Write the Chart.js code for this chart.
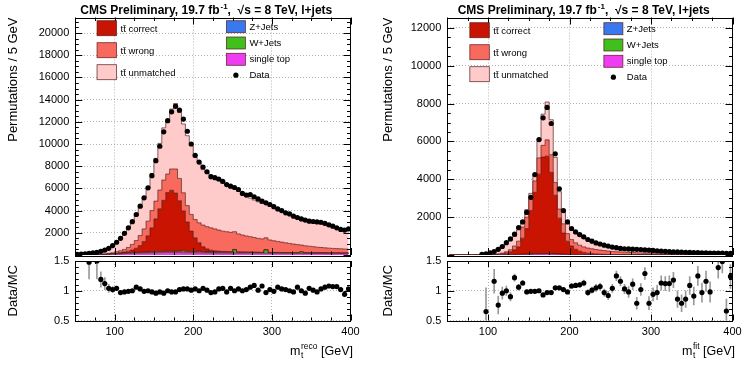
<!DOCTYPE html>
<html>
<head>
<meta charset="utf-8">
<script src="https://cdn.jsdelivr.net/npm/chart.js@4.4.1/dist/chart.umd.min.js"></script>
<style>
  body { margin: 0; background: #fff; }
  #wrap { position: relative; width: 750px; height: 367px; overflow: hidden; }
  canvas { position: absolute; }
</style>
</head>
<body>
<div id="wrap">
  <canvas id="recoMain" width="375" height="259" style="left:0px;top:0px"></canvas>
  <canvas id="recoRatio" width="375" height="117" style="left:0px;top:250px"></canvas>
  <canvas id="fitMain" width="375" height="259" style="left:375px;top:0px"></canvas>
  <canvas id="fitRatio" width="375" height="117" style="left:375px;top:250px"></canvas>
</div>
<script>
// 5 GeV bins, 50-400 GeV
const binCenters = [
  52.5, 57.5, 62.5, 67.5, 72.5, 77.5, 82.5, 87.5, 92.5, 97.5,
  102.5, 107.5, 112.5, 117.5, 122.5, 127.5, 132.5, 137.5, 142.5, 147.5,
  152.5, 157.5, 162.5, 167.5, 172.5, 177.5, 182.5, 187.5, 192.5, 197.5,
  202.5, 207.5, 212.5, 217.5, 222.5, 227.5, 232.5, 237.5, 242.5, 247.5,
  252.5, 257.5, 262.5, 267.5, 272.5, 277.5, 282.5, 287.5, 292.5, 297.5,
  302.5, 307.5, 312.5, 317.5, 322.5, 327.5, 332.5, 337.5, 342.5, 347.5,
  352.5, 357.5, 362.5, 367.5, 372.5, 377.5, 382.5, 387.5, 392.5, 397.5
];
const xTickLabels = [100, 200, 300, 400];
const yTicksReco = [2000, 4000, 6000, 8000, 10000, 12000, 14000, 16000, 18000, 20000];
const yTicksFit = [2000, 4000, 6000, 8000, 10000, 12000];
const ratioTicks = [0.5, 1, 1.5];

// ---- left: m_t^reco ----
const dataReco = [
  60, 80, 100, 140, 190, 250, 330, 440, 600, 850,
  1150, 1500, 1950, 2450, 3000, 3650, 4400, 5150, 6050, 7150,
  8500, 9800, 11100, 12100, 12900, 13400, 13050, 12250, 11150, 10000,
  8980, 8370, 7930, 7500, 7060, 6970, 6850, 6640, 6350, 6200,
  6080, 5900, 5550, 5400, 5450, 5250, 5050, 4850, 4700, 4550,
  4350, 4150, 4000, 3800, 3700, 3500, 3380, 3250, 3150, 3050,
  3020, 2980, 2950, 2850, 2720, 2600, 2450, 2300, 2250, 2350
];
const singleTopReco = [
  0, 0, 0, 0, 0, 10, 20, 30, 45, 60,
  80, 100, 120, 135, 150, 160, 170, 180, 190, 200,
  205, 210, 215, 220, 220, 220, 220, 215, 210, 205,
  200, 200, 195, 190, 190, 185, 185, 180, 180, 175,
  175, 170, 170, 165, 165, 160, 160, 155, 155, 150,
  150, 150, 145, 145, 145, 140, 140, 140, 135, 135,
  135, 130, 130, 130, 125, 125, 125, 120, 120, 120
];
const wJetsReco = [
  0, 0, 0, 0, 0, 0, 10, 15, 20, 25,
  30, 40, 50, 55, 60, 65, 70, 75, 80, 85,
  90, 95, 100, 100, 100, 100, 110, 150, 100, 90,
  85, 120, 80, 80, 75, 75, 70, 70, 70, 70,
  280, 70, 65, 65, 65, 65, 60, 60, 300, 60,
  60, 60, 55, 55, 55, 55, 55, 120, 55, 50,
  50, 50, 50, 50, 45, 45, 45, 45, 45, 45
];
const zJetsReco = [
  0, 0, 0, 0, 0, 0, 0, 0, 0, 0,
  5, 5, 5, 5, 5, 5, 5, 5, 5, 5,
  10, 10, 10, 10, 10, 10, 10, 10, 10, 10,
  10, 10, 10, 10, 10, 10, 10, 10, 10, 10,
  10, 10, 10, 10, 10, 10, 10, 10, 10, 10,
  10, 10, 10, 10, 10, 10, 10, 10, 10, 10,
  10, 10, 10, 10, 10, 10, 10, 10, 10, 10
];
const ttCorrectReco = [
  0, 0, 0, 0, 0, 5, 10, 15, 25, 35,
  50, 70, 100, 150, 230, 380, 600, 950, 1450, 2150,
  2950, 3850, 4600, 5300, 5500, 5250, 4550, 3600, 2650, 1850,
  1250, 780, 460, 270, 160, 110, 80, 60, 50, 40,
  35, 30, 28, 25, 22, 20, 18, 16, 15, 14,
  13, 12, 12, 11, 11, 10, 10, 9, 9, 8,
  8, 8, 7, 7, 7, 6, 6, 6, 5, 5
];
const ttWrongReco = [
  5, 8, 10, 12, 15, 20, 30, 45, 60, 80,
  135, 165, 225, 335, 505, 690, 905, 1140, 1325, 1560,
  1600, 1690, 1830, 1670, 1920, 2170, 2010, 1630, 1480, 1500,
  1650, 1790, 1950, 2000, 2010, 1970, 1900, 1830, 1790, 1750,
  1600, 1620, 1530, 1450, 1390, 1320, 1250, 1210, 1070, 1120,
  1050, 990, 940, 880, 820, 770, 720, 620, 620, 590,
  550, 510, 480, 450, 430, 410, 390, 380, 360, 340
];
const ttUnmatchedReco = [
  35, 47, 60, 83, 105, 132, 207, 288, 427, 633,
  800, 1150, 1480, 1780, 2050, 2250, 2520, 2850, 3050, 3350,
  3850, 4200, 4700, 4900, 5400, 5900, 5950, 6200, 6300, 6200,
  5600, 5400, 5000, 4850, 4750, 4650, 4450, 4300, 4250, 4000,
  3950, 3830, 3720, 3600, 3480, 3380, 3300, 3200, 3120, 3040,
  2960, 2840, 2760, 2680, 2620, 2540, 2440, 2380, 2320, 2240,
  2200, 2180, 2120, 2040, 1950, 1880, 1800, 1760, 1760, 1740
];
const ratioReco = [
  null, null, null, 1.48, null, 1.5, 1.19, 1.12, 1.04, 1.02,
  1.04, 0.97, 0.98, 0.99, 1.0, 1.06, 1.03, 0.99, 1.0, 0.98,
  0.96, 0.98, 0.96, 1.0, 0.98, 0.98, 1.02, 1.03, 1.03, 1.01,
  1.03, 1.0, 1.04, 1.01, 0.97, 0.98, 1.03, 1.04, 0.98, 1.04,
  1.0, 1.03, 1.0, 1.02, 1.06, 1.09, 1.01, 1.08, 0.97, 1.02,
  0.99, 1.06, 1.03, 1.02, 1.0, 0.98, 1.06, 1.0, 0.96, 1.04,
  1.01, 0.98, 1.03, 1.06, 1.08, 1.07, 1.07, 1.02, 0.94, 1.03
];
const ratioErrReco = [
  0, 0, 0, 0.28, 0, 0.3, 0.13, 0.1, 0.07, 0.05,
  0.04, 0.03, 0.03, 0.02, 0.02, 0.02, 0.02, 0.02, 0.02, 0.02,
  0.02, 0.02, 0.02, 0.02, 0.02, 0.02, 0.02, 0.02, 0.02, 0.02,
  0.02, 0.02, 0.02, 0.02, 0.02, 0.02, 0.02, 0.02, 0.02, 0.02,
  0.02, 0.02, 0.02, 0.02, 0.02, 0.02, 0.02, 0.02, 0.02, 0.02,
  0.02, 0.02, 0.02, 0.02, 0.02, 0.02, 0.02, 0.02, 0.02, 0.02,
  0.02, 0.02, 0.02, 0.02, 0.02, 0.02, 0.02, 0.02, 0.02, 0.02
];

// ---- right: m_t^fit ----
const dataFit = [
  null, null, null, null, null, null, null, null, 30, 60,
  110, 180, 300, 450, 650, 850, 1100, 1450, 1750, 2250,
  3050, 4250, 6100, 7250, 7800, 6950, 5350, 3500, 2350, 1750,
  1400, 1220, 1080, 960, 820, 730, 640, 580, 520, 470,
  420, 385, 350, 330, 320, 310, 300, 290, 270, 255,
  240, 225, 210, 195, 180, 170, 160, 152, 145, 138,
  130, 124, 118, 112, 107, 102, 98, 94, 90, 86
];
const singleTopFit = [
  0, 0, 0, 0, 0, 0, 0, 0, 0, 0,
  2, 4, 6, 8, 10, 14, 18, 22, 28, 34,
  40, 46, 52, 56, 58, 54, 46, 38, 30, 24,
  20, 17, 15, 13, 12, 11, 10, 9, 8, 8,
  7, 7, 7, 6, 6, 6, 5, 5, 5, 5,
  5, 5, 4, 4, 4, 4, 4, 4, 4, 4,
  4, 3, 3, 3, 3, 3, 3, 3, 3, 3
];
const wJetsFit = [
  0, 0, 0, 0, 0, 0, 0, 0, 0, 0,
  0, 0, 2, 3, 4, 5, 6, 8, 10, 12,
  14, 15, 16, 15, 14, 12, 10, 8, 6, 5,
  4, 4, 3, 3, 3, 2, 2, 2, 2, 2,
  2, 1, 1, 1, 1, 1, 1, 1, 1, 1,
  1, 1, 1, 1, 1, 1, 1, 1, 1, 1,
  1, 1, 1, 1, 1, 1, 1, 1, 1, 1
];
const zJetsFit = [
  0, 0, 0, 0, 0, 0, 0, 0, 0, 0,
  0, 0, 2, 2, 2, 2, 2, 2, 2, 2,
  2, 2, 2, 2, 2, 2, 2, 2, 2, 2,
  2, 2, 2, 2, 2, 2, 2, 2, 2, 2,
  2, 2, 2, 1, 1, 1, 1, 1, 1, 1,
  1, 1, 1, 1, 1, 1, 1, 1, 1, 1,
  1, 1, 1, 1, 1, 1, 1, 1, 1, 1
];
const ttCorrectFit = [
  0, 0, 0, 0, 0, 0, 0, 0, 0, 0,
  3, 8, 20, 40, 80, 150, 250, 400, 850, 1350,
  2300, 3250, 4200, 5100, 5150, 4300, 3100, 1900, 1120, 700,
  450, 280, 180, 120, 80, 60, 45, 35, 28, 22,
  18, 15, 12, 11, 10, 9, 8, 8, 7, 7,
  6, 6, 5, 5, 5, 4, 4, 4, 4, 3,
  3, 3, 3, 3, 2, 2, 2, 2, 2, 2
];
const ttWrongFit = [
  0, 0, 0, 0, 0, 0, 0, 0, 0, 5,
  8, 15, 30, 47, 74, 109, 200, 300, 585, 600,
  600, 600, 860, 620, 860, 930, 670, 480, 490, 400,
  340, 340, 320, 290, 270, 255, 230, 210, 195, 175,
  160, 150, 140, 130, 122, 113, 104, 97, 91, 85,
  80, 75, 70, 66, 62, 58, 55, 52, 49, 46,
  44, 41, 39, 37, 35, 33, 32, 30, 28, 27
];
const ttUnmatchedFit = [
  0, 0, 0, 0, 0, 0, 0, 10, 25, 85,
  107, 143, 300, 370, 480, 600, 500, 600, 350, 400,
  300, 350, 900, 1650, 2000, 1850, 1330, 920, 650, 650,
  500, 490, 470, 450, 430, 390, 340, 300, 285, 270,
  230, 185, 170, 165, 160, 155, 155, 150, 145, 140,
  134, 127, 119, 111, 104, 98, 93, 89, 84, 80,
  76, 73, 69, 65, 63, 60, 57, 55, 53, 50
];
const ratioFit = [
  null, null, null, null, null, null, null, null, null, 0.65,
  null, 1.16, 0.76, 0.96, 1.0, 0.9, 1.22, 1.06, 1.13, 0.98,
  0.99, 0.99, 1.0, 0.93, 0.97, 0.97, 1.05, 1.05, 1.02, 0.98,
  1.08, 1.09, 1.1, 1.13, 0.97, 1.01, 1.05, 1.07, 0.97, 0.92,
  1.04, 1.25, 1.16, 1.03, 0.98, 1.11, 0.79, 1.02, 1.29, 0.79,
  0.94, 0.97, 1.13, 1.12, 1.12, 1.18, 0.86, 0.79, 0.86, 1.09,
  0.91, 1.25, 0.97, 1.16, 0.98, null, 1.39, 1.49, 0.66, 1.24
];
const ratioErrFit = [
  0, 0, 0, 0, 0, 0, 0, 0, 0, 0.4,
  0, 0.2, 0.15, 0.1, 0.08, 0.07, 0.06, 0.05, 0.04, 0.03,
  0.02, 0.02, 0.02, 0.02, 0.02, 0.02, 0.02, 0.02, 0.03, 0.03,
  0.04, 0.04, 0.04, 0.05, 0.05, 0.05, 0.06, 0.06, 0.06, 0.07,
  0.07, 0.08, 0.08, 0.08, 0.09, 0.09, 0.1, 0.1, 0.1, 0.11,
  0.11, 0.12, 0.12, 0.12, 0.13, 0.13, 0.14, 0.14, 0.14, 0.15,
  0.15, 0.16, 0.16, 0.17, 0.17, 0.18, 0.18, 0.19, 0.2, 0.2
];

Chart.defaults.font.family = "'Liberation Sans', Arial, sans-serif";
Chart.defaults.color = '#000';
Chart.defaults.animation = false;

const colors = {
  correct: '#c81400', wrong: '#f86a5e', unmatched: '#ffcaca',
  zjets: '#3a78f0', wjets: '#40c01c', stop: '#f03cf0'
};
const outline = 'rgba(80,25,25,0.85)';
const gridColor = 'rgba(0,0,0,0.3)';
const FONT = "'Liberation Sans', Arial, sans-serif";

// ROOT-like frame with inward tick marks
const framePlugin = {
  id: 'frame',
  afterDraw(chart, args, o) {
    const { ctx, chartArea: a, scales: { x, y } } = chart;
    ctx.save();
    ctx.strokeStyle = '#000';
    ctx.lineWidth = 1;
    ctx.beginPath();
    for (let v = 50; v <= 400; v += 25) {
      const px = Math.round(x.getPixelForValue(v)) + 0.5;
      const len = v % 100 === 0 ? o.xMajor : o.xMinor;
      ctx.moveTo(px, a.bottom); ctx.lineTo(px, a.bottom - len);
      ctx.moveTo(px, a.top); ctx.lineTo(px, a.top + len);
    }
    const n = Math.floor((y.max - y.min) / o.yStep + 1e-6);
    for (let i = 0; i <= n; i++) {
      const v = y.min + i * o.yStep;
      const py = Math.round(y.getPixelForValue(v)) + 0.5;
      const q = v / o.yMajorStep;
      const len = Math.abs(q - Math.round(q)) < 1e-6 ? o.yMajor : o.yMinor;
      ctx.moveTo(a.left, py); ctx.lineTo(a.left + len, py);
      ctx.moveTo(a.right, py); ctx.lineTo(a.right - len, py);
    }
    ctx.stroke();
    ctx.strokeRect(Math.round(a.left) + 0.5, Math.round(a.top) + 0.5,
      Math.round(a.right - a.left), Math.round(a.bottom - a.top));
    ctx.restore();
  }
};

// CMS header + two-column legend inside the frame, built from the datasets
const legendPlugin = {
  id: 'histLegend',
  afterDraw(chart, args, o) {
    const { ctx, chartArea: a } = chart;
    const ds = chart.data.datasets;
    const byLabel = l => ds.find(d => d.label === l);
    const w = a.right - a.left;
    ctx.save();

    // header with a real superscript
    const hb = 'bold 12px ' + FONT, hs = 'bold 8px ' + FONT;
    const p1 = 'CMS Preliminary, 19.7 fb', p2 = '-1', p3 = ',  \u221As = 8 TeV, l+jets';
    ctx.font = hb; const w1 = ctx.measureText(p1).width, w3 = ctx.measureText(p3).width;
    ctx.font = hs; const w2 = ctx.measureText(p2).width + 1;
    let hx = a.left + o.titleFrac * w - (w1 + w2 + w3) / 2;
    ctx.fillStyle = '#000';
    ctx.textBaseline = 'alphabetic';
    ctx.font = hb; ctx.fillText(p1, hx, 13.5);
    ctx.font = hs; ctx.fillText(p2, hx + w1 + 1, 8.5);
    ctx.font = hb; ctx.fillText(p3, hx + w1 + w2, 13.5);

    const c1 = a.left + 0.079 * w, c2 = a.left + 0.549 * w;
    const top = a.top + 3.2 + o.dy;
    ctx.font = '9.5px ' + FONT;
    ctx.textBaseline = 'middle';
    ctx.lineWidth = 0.8;
    ['tt\u0304 correct', 'tt\u0304 wrong', 'tt\u0304 unmatched'].forEach((l, i) => {
      const y = top + i * 22;
      ctx.fillStyle = byLabel(l).backgroundColor;
      ctx.fillRect(c1, y, 19.5, 15);
      ctx.strokeStyle = outline;
      ctx.strokeRect(c1, y, 19.5, 15);
      ctx.fillStyle = '#000';
      ctx.fillText(l, c1 + 23.5, y + 8.5);
    });
    ['Z+Jets', 'W+Jets', 'single top'].forEach((l, i) => {
      const y = top + i * 16.3;
      ctx.fillStyle = byLabel(l).backgroundColor;
      ctx.fillRect(c2, y, 19, 12);
      ctx.strokeStyle = outline;
      ctx.strokeRect(c2, y, 19, 12);
      ctx.fillStyle = '#000';
      ctx.fillText(l, c2 + 23, y + 6.5);
    });
    ctx.beginPath();
    ctx.arc(c2 + 9.5, top + 54.5, 2.6, 0, Math.PI * 2);
    ctx.fill();
    ctx.fillText('Data', c2 + 23, top + 54.5);
    ctx.restore();
  }
};

// x axis title with sub/superscript, right aligned under the ratio pad
const xTitlePlugin = {
  id: 'xTitle',
  afterDraw(chart, args, o) {
    const { ctx, chartArea: a } = chart;
    const big = '12.5px ' + FONT, small = '8.5px ' + FONT;
    ctx.save();
    ctx.fillStyle = '#000';
    ctx.textBaseline = 'alphabetic';
    ctx.font = big;
    const wm = ctx.measureText('m').width, wt = ctx.measureText(' [GeV]').width;
    ctx.font = small;
    const ws = Math.max(ctx.measureText('t').width, ctx.measureText(o.sup).width);
    const x0 = a.right + 2 - wt - ws - wm;
    ctx.font = big; ctx.fillText('m', x0, o.y);
    ctx.font = small;
    ctx.fillText('t', x0 + wm + 0.5, o.y + 3);
    ctx.fillText(o.sup, x0 + wm + 0.5, o.y - 6);
    ctx.font = big; ctx.fillText(' [GeV]', x0 + wm + ws + 0.5, o.y);
    ctx.restore();
  }
};

const setTicks = vals => s => { s.ticks = vals.map(v => ({ value: v })); };
// keep the plot frame exactly where the layout puts it
const fixWidth = w => s => { s.width = w; s.paddingTop = 0; s.paddingBottom = 0; };
const fixHeight = h => s => { s.height = h; s.paddingLeft = 0; s.paddingRight = 0; };

function mainChart(id, d, cfg) {
  const pts = arr => binCenters.map((x, i) => ({ x, y: arr[i] }));
  const layer = (label, arr, color, fill) => ({
    label, data: pts(arr), backgroundColor: color, borderColor: outline, borderWidth: 0.8,
    fill, stepped: 'middle', pointRadius: 0, stack: 'mc', order: 1
  });
  return new Chart(document.getElementById(id), {
    type: 'line',
    data: {
      datasets: [
        layer('single top', d.stop, colors.stop, 'origin'),
        layer('W+Jets', d.wjets, colors.wjets, '-1'),
        layer('Z+Jets', d.zjets, colors.zjets, '-1'),
        layer('tt\u0304 correct', d.correct, colors.correct, '-1'),
        layer('tt\u0304 wrong', d.wrong, colors.wrong, '-1'),
        layer('tt\u0304 unmatched', d.unmatched, colors.unmatched, '-1'),
        { label: 'Data', data: pts(d.data), showLine: false, pointRadius: 2.6,
          pointBackgroundColor: '#000', pointBorderWidth: 0, stack: 'data', order: 0, fill: false }
      ]
    },
    options: {
      responsive: false,
      devicePixelRatio: 1,
      layout: { padding: { left: 0, right: cfg.padRight, top: 17.5, bottom: 1.5 } },
      plugins: {
        legend: { display: false },
        tooltip: { enabled: false },
        frame: { xMajor: 7, xMinor: 3.5, yStep: 500, yMajorStep: 2000, yMajor: 7, yMinor: 3.5 },
        histLegend: { dy: cfg.legendDy, titleFrac: cfg.titleFrac }
      },
      scales: {
        x: {
          type: 'linear', min: 50, max: 400,
          ticks: { display: false },
          afterBuildTicks: setTicks(xTickLabels),
          grid: { drawTicks: false, color: gridColor },
          border: { display: false, dash: [1, 2] },
          afterFit: fixHeight(0)
        },
        y: {
          stacked: true, min: 0, max: cfg.yMax,
          ticks: { padding: 6, font: { size: 11 }, color: '#000', callback: v => String(v) },
          afterBuildTicks: setTicks(cfg.yTicks),
          grid: { drawTicks: false, color: gridColor },
          border: { display: false, dash: [1, 2] },
          title: { display: true, text: 'Permutations / 5 GeV', align: 'end', color: '#000',
                   font: { size: 13 }, padding: { top: 6, bottom: 0 } },
          afterFit: fixWidth(cfg.axisW)
        }
      }
    },
    plugins: [framePlugin, legendPlugin]
  });
}

function ratioChart(id, ratio, err, cfg) {
  const pts = [], bars = [];
  binCenters.forEach((x, i) => {
    if (ratio[i] === null) return;
    pts.push({ x, y: ratio[i] });
    if (err[i] > 0) bars.push({ x, y: [ratio[i] - err[i], ratio[i] + err[i]] });
  });
  return new Chart(document.getElementById(id), {
    type: 'scatter',
    data: {
      datasets: [
        { type: 'bar', data: bars, backgroundColor: '#9a9a9a', barThickness: 1, order: 1 },
        { data: pts, pointRadius: 2.6, pointBackgroundColor: '#000', pointBorderWidth: 0, order: 0 }
      ]
    },
    options: {
      responsive: false,
      devicePixelRatio: 1,
      layout: { padding: { left: 0, right: cfg.padRight, top: 11, bottom: 0 } },
      plugins: {
        legend: { display: false },
        tooltip: { enabled: false },
        frame: { xMajor: 6, xMinor: 3, yStep: 0.1, yMajorStep: 0.5, yMajor: 7, yMinor: 3.5 },
        xTitle: { sup: cfg.sup, y: 105 }
      },
      scales: {
        x: {
          type: 'linear', min: 50, max: 400, offset: false,
          ticks: { padding: 5, font: { size: 11 }, color: '#000', maxRotation: 0, callback: v => String(v) },
          afterBuildTicks: setTicks(xTickLabels),
          grid: { drawTicks: false, color: gridColor, offset: false },
          border: { display: false, dash: [1, 2] },
          afterFit: fixHeight(46.5)
        },
        y: {
          min: 0.5, max: 1.5,
          ticks: { padding: 6, font: { size: 11 }, color: '#000', callback: v => String(v) },
          afterBuildTicks: setTicks(ratioTicks),
          grid: { drawTicks: false, color: gridColor },
          border: { display: false, dash: [1, 2] },
          title: { display: true, text: 'Data/MC', color: '#000',
                   font: { size: 13 }, padding: { top: 6, bottom: 0 } },
          afterFit: fixWidth(cfg.axisW)
        }
      }
    },
    plugins: [framePlugin, xTitlePlugin]
  });
}

mainChart('recoMain', {
  data: dataReco, stop: singleTopReco, wjets: wJetsReco, zjets: zJetsReco,
  correct: ttCorrectReco, wrong: ttWrongReco, unmatched: ttUnmatchedReco
}, { axisW: 75.3, padRight: 24.5, yMax: 21400, yTicks: yTicksReco, legendDy: 0, titleFrac: 0.476 });
ratioChart('recoRatio', ratioReco, ratioErrReco, { axisW: 75.3, padRight: 24.5, sup: 'reco' });

mainChart('fitMain', {
  data: dataFit, stop: singleTopFit, wjets: wJetsFit, zjets: zJetsFit,
  correct: ttCorrectFit, wrong: ttWrongFit, unmatched: ttUnmatchedFit
}, { axisW: 72.3, padRight: 17.5, yMax: 12550, yTicks: yTicksFit, legendDy: 2, titleFrac: 0.478 });
ratioChart('fitRatio', ratioFit, ratioErrFit, { axisW: 72.3, padRight: 17.5, sup: 'fit' });
</script>
</body>
</html>
